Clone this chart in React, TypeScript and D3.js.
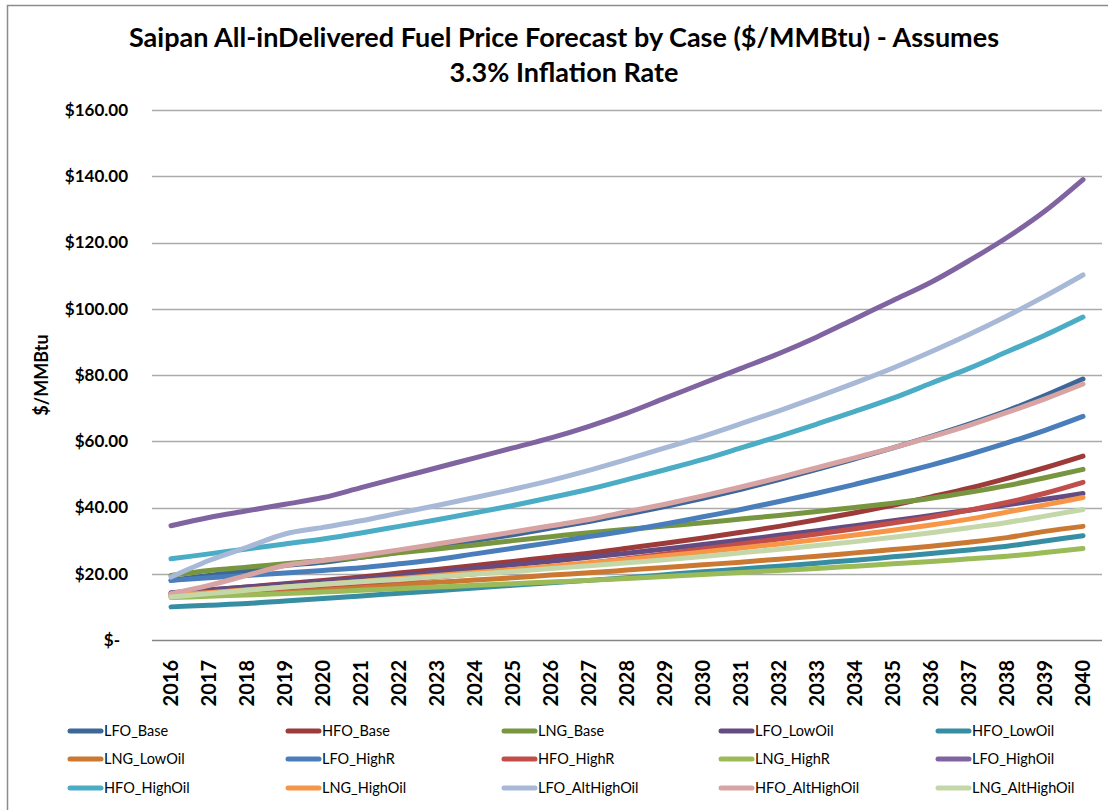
import React from "react";
import * as d3 from "d3";

const years = [2016,2017,2018,2019,2020,2021,2022,2023,2024,2025,2026,2027,2028,2029,2030,2031,2032,2033,2034,2035,2036,2037,2038,2039,2040];
const yTicks = [0, 20, 40, 60, 80, 100, 120, 140, 160];

const LFO_Base = [18,19.5,21,22.5,23.5,25,26.5,28.2,30,31.8,33.8,35.8,38,40.3,42.8,45.5,48.4,51.5,54.7,58,61.5,65.2,69.2,73.8,78.8];
const HFO_Base = [14,15,16,17,18,19,20.2,21.3,22.5,23.7,25,26.2,27.7,29.2,30.8,32.5,34.3,36.3,38.4,40.7,43.2,45.8,48.8,52,55.5];
const LNG_Base = [19.5,21,22,23,24,25,26.3,27.5,28.7,30,31.2,32.4,33.4,34.4,35.4,36.5,37.6,38.8,40,41.3,42.8,44.6,46.6,49,51.5];
const LFO_LowOil = [14.3,15.2,16,16.8,17.6,18.5,19.5,20.5,21.6,22.7,23.8,25,26.2,27.5,28.8,30.2,31.6,33,34.5,36,37.6,39.2,40.8,42.5,44.2];
const HFO_LowOil = [10,10.5,11,11.8,12.5,13.3,14.1,14.9,15.7,16.5,17.3,18,18.8,19.7,20.6,21.4,22.3,23.2,24.1,25.1,26.1,27.2,28.3,29.9,31.5];
const LNG_LowOil = [13,13.6,14.2,14.8,15.4,16,16.7,17.4,18.1,18.8,19.6,20.3,21.1,21.9,22.7,23.5,24.4,25.3,26.3,27.3,28.3,29.5,30.9,32.8,34.3];
const LFO_HighR = [18,18.8,19.5,20.2,21,21.8,23,24.3,26,27.7,29.4,31.2,33,35,37.2,39.4,41.8,44.3,47,49.8,52.8,56,59.5,63.3,67.5];
const HFO_HighR = [13.5,14.3,15,15.8,16.5,17.3,18,19,20,21,22,23.2,24.5,26,27.5,29,30.5,32,33.6,35.3,37.1,39.2,41.5,44.3,47.6];
const LNG_HighR = [12.8,13.2,13.6,14,14.5,15,15.5,16,16.5,17,17.5,18,18.6,19.2,19.8,20.4,21,21.6,22.3,23,23.7,24.5,25.3,26.4,27.6];
const LFO_HighOil = [34.5,37,39,41,43,46,49,52,55,58,61,64.5,68.5,73,77.5,82,86.5,91.5,97,102.5,108,114.5,121.5,129.5,139];
const HFO_HighOil = [24.5,26,27.5,29,30.5,32.3,34.3,36.3,38.4,40.6,43,45.5,48.4,51.4,54.5,58,61.5,65.2,69,73,77.5,82,87,92,97.5];
const LNG_HighOil = [13.5,14.3,15.2,16,16.8,17.7,18.6,19.5,20.4,21.3,22.3,23.3,24.3,25.4,26.6,27.8,29,30.3,31.7,33.1,34.7,36.5,38.6,40.8,43];
const LFO_AltHighOil = [19,24,28,32,34,36,38.3,40.6,43,45.5,48.2,51.2,54.5,58,61.5,65.3,69.2,73.3,77.6,82.1,87,92.2,97.8,103.8,110.2];
const HFO_AltHighOil = [14,16.5,19.5,22.5,24,25.5,27.2,29,30.8,32.6,34.5,36.4,38.7,41,43.5,46.2,49,52,55,58,61.3,64.8,68.7,72.8,77.3];
const LNG_AltHighOil = [13,14,15,16,16.8,17.6,18.3,19.1,19.9,20.7,21.6,22.4,23.3,24.2,25.2,26.3,27.4,28.5,29.7,31,32.4,33.9,35.5,37.4,39.4];

const seriesNames = ["LFO_Base","HFO_Base","LNG_Base","LFO_LowOil","HFO_LowOil","LNG_LowOil","LFO_HighR","HFO_HighR","LNG_HighR","LFO_HighOil","HFO_HighOil","LNG_HighOil","LFO_AltHighOil","HFO_AltHighOil","LNG_AltHighOil"];
const seriesValues = [LFO_Base,HFO_Base,LNG_Base,LFO_LowOil,HFO_LowOil,LNG_LowOil,LFO_HighR,HFO_HighR,LNG_HighR,LFO_HighOil,HFO_HighOil,LNG_HighOil,LFO_AltHighOil,HFO_AltHighOil,LNG_AltHighOil];
const seriesColors = ["#3C6798","#9C3B39","#77963F","#644C82","#378EA3","#CB7932","#4A7EBB","#C24E4B","#9BBB59","#8064A2","#4BACC6","#F79646","#A7B9D7","#D8A4A3","#C4D7A9"];

const W = 1108, H = 810;
const plot = { left: 152, right: 1102, top: 110, bottom: 640 };
const FONT = "Lato, 'Open Sans', sans-serif";

export default function App() {
  const x = d3.scaleBand<number>().domain(years).range([plot.left, plot.right]);
  const cx = (yr: number) => (x(yr) as number) + x.bandwidth() / 2;
  const y = d3.scaleLinear().domain([0, 160]).range([plot.bottom, plot.top]);
  const line = d3.line<number>().x((_, i) => cx(years[i])).y((d) => y(d)).curve(d3.curveMonotoneX);
  const fmt = (v: number) => (v === 0 ? "$-" : "$" + d3.format(",.2f")(v));

  const legendCols = [68, 286, 502, 719, 936];
  const legendRows = [731, 759, 788];

  return (
    <svg width={W} height={H} style={{ position: "absolute", left: 0, top: 0, background: "#fff" }} fontFamily={FONT}>
      <rect x={0} y={0} width={W} height={H} fill="#fff" />
      <rect x={7.5} y={5.5} width={W + 20} height={H + 20} fill="none" stroke="#8c8c8c" strokeWidth={1.5} />
      <text x={564} y={47} textAnchor="middle" fontSize={27} fontWeight={700} fill="#000">
        Saipan All-inDelivered Fuel Price Forecast by Case ($/MMBtu) - Assumes
      </text>
      <text x={564} y={82} textAnchor="middle" fontSize={27} fontWeight={700} fill="#000">
        3.3% Inflation Rate
      </text>
      {yTicks.filter((t) => t > 0).map((t) => (
        <line key={t} x1={plot.left} x2={plot.right} y1={Math.round(y(t)) + 0.5} y2={Math.round(y(t)) + 0.5} stroke="#ABABAB" strokeWidth={1.3} />
      ))}
      <line x1={plot.left} x2={plot.right} y1={plot.bottom + 0.5} y2={plot.bottom + 0.5} stroke="#868686" strokeWidth={1.3} />
      {yTicks.map((t) => (
        <text key={t} x={t === 0 ? 120 : 128} y={y(t)} dy="0.35em" textAnchor="end" fontSize={17} fontWeight={700} fill="#000">
          {fmt(t)}
        </text>
      ))}
      {years.map((yr) => (
        <text key={yr} transform={`translate(${cx(yr)},660) rotate(-90)`} dy="0.36em" textAnchor="end" fontSize={20} fontWeight={700} fill="#000">
          {yr}
        </text>
      ))}
      <text transform={`translate(42,${(plot.top + plot.bottom) / 2}) rotate(-90)`} dy="0.35em" textAnchor="middle" fontSize={18} fontWeight={700} fill="#000">
        $/MMBtu
      </text>
      {seriesValues.map((vals, i) => (
        <path key={seriesNames[i]} d={line(vals) as string} fill="none" stroke={seriesColors[i]} strokeWidth={5} strokeLinecap="round" strokeLinejoin="round" />
      ))}
      {seriesNames.map((name, i) => {
        const lx = legendCols[i % 5];
        const ly = legendRows[Math.floor(i / 5)];
        return (
          <g key={name}>
            <line x1={lx + 2} x2={lx + 33} y1={ly} y2={ly} stroke={seriesColors[i]} strokeWidth={5} strokeLinecap="round" />
            <text x={lx + 36} y={ly} dy="0.35em" fontSize={14.5} fill="#000">{name}</text>
          </g>
        );
      })}
    </svg>
  );
}
